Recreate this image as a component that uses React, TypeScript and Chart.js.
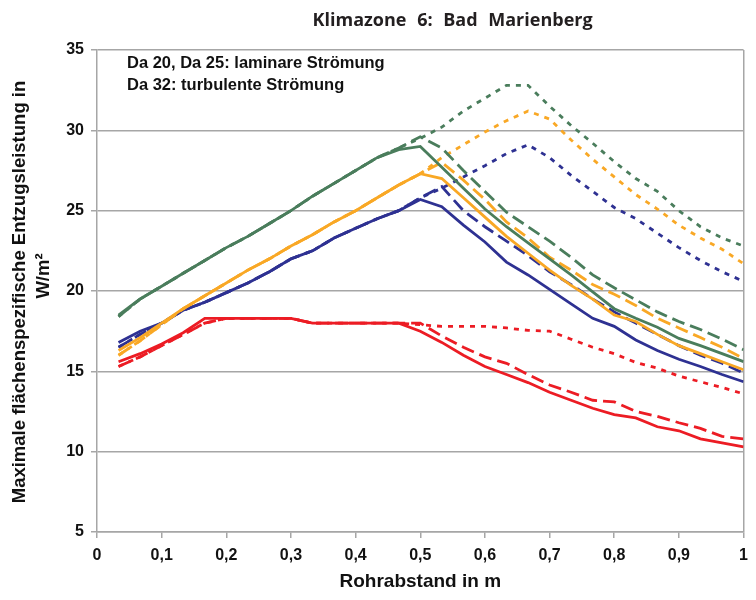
import React, { useEffect, useRef } from 'react';
import { Chart, registerables } from 'chart.js';

Chart.register(...registerables);

// Rohrabstand in m
const rohrabstand = [
  0.0333, 0.0667, 0.1, 0.1333, 0.1667, 0.2, 0.2333, 0.2667, 0.3, 0.3333,
  0.3667, 0.4, 0.4333, 0.4667, 0.5, 0.5333, 0.5667, 0.6, 0.6333, 0.6667,
  0.7, 0.7333, 0.7667, 0.8, 0.8333, 0.8667, 0.9, 0.9333, 0.9667, 1.0,
];

// Green
const greenSolid = [
  18.5, 19.5, 20.3, 21.1, 21.9, 22.7, 23.4, 24.2, 25.0, 25.9,
  26.7, 27.5, 28.3, 28.8, 29.0, 27.7, 26.4, 25.1, 24.0, 23.0,
  22.0, 21.0, 19.95, 18.9, 18.3, 17.75, 17.05, 16.6, 16.1, 15.6,
];
const greenDashed = [
  18.4, 19.5, 20.3, 21.1, 21.9, 22.7, 23.4, 24.2, 25.0, 25.9,
  26.7, 27.5, 28.3, 28.9, 29.6, 28.9, 27.5, 26.2, 24.9, 24.0,
  23.1, 22.1, 21.0, 20.2, 19.45, 18.7, 18.1, 17.6, 17.0, 16.35,
];
const greenDotted = [
  18.4, 19.5, 20.3, 21.1, 21.9, 22.7, 23.4, 24.2, 25.0, 25.9,
  26.7, 27.5, 28.3, 28.9, 29.5, 30.2, 31.2, 32.0, 32.8, 32.8,
  31.5, 30.3, 29.2, 28.05, 27.0, 26.2, 25.0, 24.0, 23.3, 22.8,
];

// Orange
const orangeSolid = [
  16.3, 17.1, 18.0, 18.9, 19.7, 20.5, 21.3, 22.0, 22.8, 23.5,
  24.3, 25.0, 25.8, 26.6, 27.3, 27.0, 25.8, 24.6, 23.4, 22.35,
  21.3, 20.35, 19.5, 18.5, 18.1, 17.3, 16.6, 16.1, 15.6, 15.1,
];
const orangeDashed = [
  16.0, 16.9, 17.9, 18.9, 19.7, 20.5, 21.3, 22.0, 22.8, 23.5,
  24.3, 25.0, 25.8, 26.6, 27.3, 28.0, 26.9, 25.7, 24.3, 23.3,
  22.1, 21.3, 20.4, 19.8, 19.1, 18.3, 17.7, 17.1, 16.5, 15.8,
];
const orangeDotted = [
  16.0, 16.9, 17.9, 18.9, 19.7, 20.5, 21.3, 22.0, 22.8, 23.5,
  24.3, 25.0, 25.8, 26.6, 27.3, 28.3, 29.1, 29.9, 30.6, 31.2,
  30.7, 29.4, 28.2, 27.1, 26.0, 25.1, 24.1, 23.3, 22.6, 21.7,
];

// Blue
const blueSolid = [
  16.8, 17.5, 18.0, 18.8, 19.3, 19.9, 20.5, 21.2, 22.0, 22.5,
  23.3, 23.9, 24.5, 25.0, 25.7, 25.25, 24.1, 23.05, 21.8, 21.0,
  20.1, 19.2, 18.3, 17.8, 16.95, 16.3, 15.75, 15.3, 14.8, 14.35,
];
const blueDashed = [
  16.5, 17.3, 18.0, 18.8, 19.3, 19.9, 20.5, 21.2, 22.0, 22.5,
  23.3, 23.9, 24.5, 25.0, 25.8, 26.5, 25.0, 24.0, 23.1, 22.2,
  21.2, 20.4, 19.5, 18.7, 18.0, 17.3, 16.6, 16.0, 15.5, 14.9,
];
const blueDotted = [
  16.5, 17.3, 18.0, 18.8, 19.3, 19.9, 20.5, 21.2, 22.0, 22.5,
  23.3, 23.9, 24.5, 25.0, 25.8, 26.4, 27.1, 27.8, 28.55, 29.1,
  28.3, 27.2, 26.2, 25.2, 24.5, 23.6, 22.7, 21.9, 21.2, 20.6,
];

// Red
const redSolid = [
  15.6, 16.1, 16.7, 17.4, 18.3, 18.3, 18.3, 18.3, 18.3, 18.0,
  18.0, 18.0, 18.0, 18.0, 17.5, 16.8, 16.0, 15.3, 14.8, 14.3,
  13.7, 13.2, 12.7, 12.3, 12.1, 11.55, 11.3, 10.8, 10.55, 10.3,
];
const redDashed = [
  15.3, 15.9, 16.6, 17.3, 18.0, 18.3, 18.3, 18.3, 18.3, 18.0,
  18.0, 18.0, 18.0, 18.0, 18.0, 17.2, 16.5, 15.9, 15.5, 14.8,
  14.15, 13.7, 13.2, 13.1, 12.5, 12.2, 11.8, 11.45, 10.95, 10.8,
];
const redDotted = [
  15.3, 15.9, 16.6, 17.3, 18.0, 18.3, 18.3, 18.3, 18.3, 18.0,
  18.0, 18.0, 18.0, 18.0, 17.9, 17.8, 17.8, 17.8, 17.7, 17.55,
  17.5, 17.0, 16.5, 16.1, 15.55, 15.2, 14.7, 14.35, 14.0, 13.6,
];

const title = 'Klimazone 6: Bad Marienberg';
const noteLines = ['Da 20, Da 25: laminare Strömung', 'Da 32: turbulente Strömung'];
const yTitle = ['Maximale flächenspezifische Entzugsleistung in', 'W/m²'];
const xTitle = 'Rohrabstand in m';

const GREEN = '#4a7d5c';
const ORANGE = '#f9a825';
const BLUE = '#2e3192';
const RED = '#ec1c24';
const GRID = '#a6a6a6';
const FONT = "'Liberation Sans', Arial, sans-serif";

const DASH = [13, 6];
const DOT = [5, 6];

const series = [
  { label: 'grün Da 20', color: GREEN, data: greenSolid, dash: [] as number[] },
  { label: 'grün Da 25', color: GREEN, data: greenDashed, dash: DASH },
  { label: 'grün Da 32', color: GREEN, data: greenDotted, dash: DOT },
  { label: 'orange Da 20', color: ORANGE, data: orangeSolid, dash: [] as number[] },
  { label: 'orange Da 25', color: ORANGE, data: orangeDashed, dash: DASH },
  { label: 'orange Da 32', color: ORANGE, data: orangeDotted, dash: DOT },
  { label: 'blau Da 20', color: BLUE, data: blueSolid, dash: [] as number[] },
  { label: 'blau Da 25', color: BLUE, data: blueDashed, dash: DASH },
  { label: 'blau Da 32', color: BLUE, data: blueDotted, dash: DOT },
  { label: 'rot Da 20', color: RED, data: redSolid, dash: [] as number[] },
  { label: 'rot Da 25', color: RED, data: redDashed, dash: DASH },
  { label: 'rot Da 32', color: RED, data: redDotted, dash: DOT },
];

const textPlugin = {
  id: 'texts',
  afterDraw(chart: any) {
    const { ctx, chartArea } = chart;
    const midY = (chartArea.top + chartArea.bottom) / 2;
    ctx.save();
    // chart title
    ctx.fillStyle = '#231f20';
    ctx.textAlign = 'center';
    ctx.textBaseline = 'middle';
    ctx.font = "bold 18px 'Open Sans', 'DejaVu Sans', sans-serif";
    try { (ctx as any).wordSpacing = '6px'; } catch (e) {}
    const cx = chartArea.left + (chartArea.right - chartArea.left) * 0.55;
    ctx.fillText(title, cx, chartArea.top - 29);
    try { (ctx as any).wordSpacing = '0px'; } catch (e) {}
    // note
    ctx.fillStyle = '#111';
    ctx.textAlign = 'left';
    ctx.font = `bold 16.5px ${FONT}`;
    noteLines.forEach((t, i) => {
      ctx.fillText(t, chartArea.left + 30, chartArea.top + 13 + i * 22);
    });
    // y axis title
    ctx.font = `bold 18.5px ${FONT}`;
    ctx.textAlign = 'center';
    ctx.save();
    ctx.translate(20, midY + 1);
    ctx.rotate(-Math.PI / 2);
    ctx.fillText(yTitle[0], 0, 0);
    ctx.restore();
    ctx.save();
    ctx.translate(44, midY - 15);
    ctx.rotate(-Math.PI / 2);
    ctx.fillText(yTitle[1], 0, 0);
    ctx.restore();
    ctx.restore();
  },
};

export default function App() {
  const ref = useRef<HTMLCanvasElement>(null);
  useEffect(() => {
    if (!ref.current) return;
    const chart = new Chart(ref.current, {
      type: 'line',
      data: {
        datasets: series.map((s) => ({
          label: s.label,
          data: rohrabstand.map((x, i) => ({ x, y: s.data[i] })),
          borderColor: s.color,
          backgroundColor: s.color,
          borderWidth: 2.8,
          borderDash: s.dash,
          pointRadius: 0,
          tension: 0,
          fill: false,
        })),
      },
      options: {
        animation: false,
        responsive: false,
        maintainAspectRatio: false,
        layout: { padding: { top: 50, right: 3, left: 0, bottom: 0 } },
        plugins: {
          legend: { display: false },
          tooltip: { enabled: false },
          title: { display: false },
        },
        scales: {
          x: {
            type: 'linear',
            min: 0,
            max: 1,
            afterFit: (scale: any) => {
              scale.height = 68;
            },
            border: { color: GRID, width: 1.5 },
            grid: {
              color: (c: any) => (c.tick && Math.abs(c.tick.value - 1) < 1e-6 ? GRID : 'rgba(0,0,0,0)'),
              lineWidth: 1.5,
              tickColor: GRID,
              tickLength: 6,
              drawTicks: true,
            },
            ticks: {
              stepSize: 0.1,
              color: '#111',
              padding: 8,
              maxRotation: 0,
              font: { family: FONT, size: 16, weight: 'bold' },
              callback: (v: any) => {
                const r = Math.round(Number(v) * 10) / 10;
                return String(r).replace('.', ',');
              },
            },
            title: {
              display: true,
              text: xTitle,
              color: '#111',
              font: { family: FONT, size: 19, weight: 'bold' },
              padding: { top: 0, bottom: 7 },
            },
          },
          y: {
            type: 'linear',
            min: 5,
            max: 35,
            afterFit: (scale: any) => {
              scale.width = 97;
            },
            border: { color: GRID, width: 1.5 },
            grid: {
              color: GRID,
              lineWidth: 1.5,
              tickColor: GRID,
              tickLength: 6,
            },
            ticks: {
              stepSize: 5,
              color: '#111',
              padding: 7,
              font: { family: FONT, size: 16, weight: 'bold' },
            },
            title: { display: false },
          },
        },
      },
      plugins: [textPlugin],
    } as any);
    return () => chart.destroy();
  }, []);
  return (
    <div style={{ margin: -8, width: 756, height: 600 }}>
      <canvas ref={ref} width={756} height={600} style={{ display: 'block', width: 756, height: 600 }} />
    </div>
  );
}
